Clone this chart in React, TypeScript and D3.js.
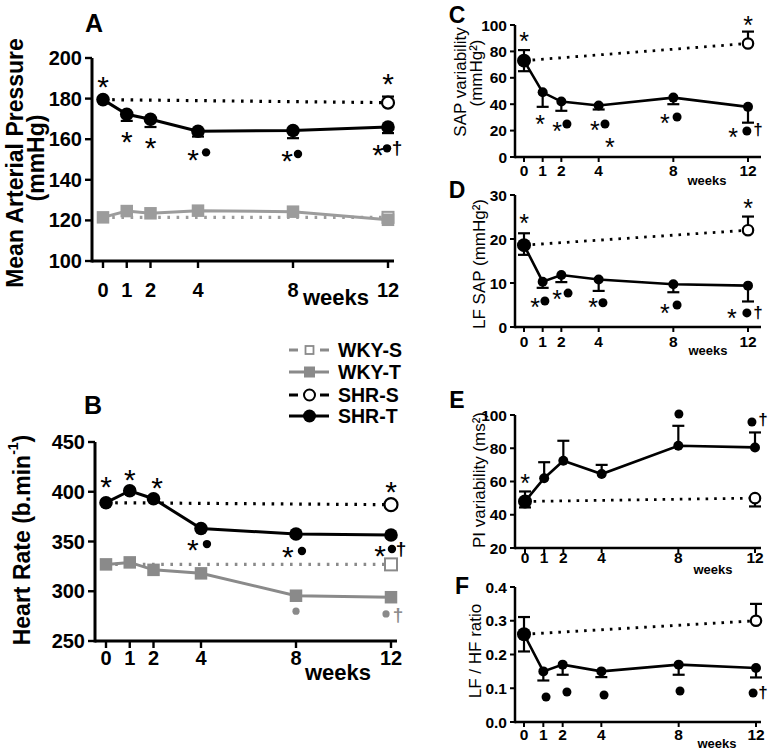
import React from 'react';
import * as d3 from 'd3';

const FF = '"Liberation Sans", Arial, Helvetica, sans-serif';
const GRAY_A = '#9c9c9c';
const GRAY_B = '#8a8a8a';

// ---------- shared ----------
const weeks = [0, 1, 2, 4, 8, 12];
const shamWeeks = [0, 12];
const weekTicks = [0, 1, 2, 4, 8, 12];

// ---------- Panel A: Mean arterial pressure ----------
const mapTicks = [100, 120, 140, 160, 180, 200];
const mapShrT = [179.5, 172.3, 169.8, 163.9, 164.3, 166];
const mapShrTLo = [null, 169, 166, 161.3, 160.5, 163];
const mapShrS = [179.5, 178];
const mapShrSHi = [null, 181];
const mapWkyT = [121.5, 124.6, 123.5, 124.8, 124.3, 120.3];
const mapWkyS = [121.5, 121.5];
const mapMarks = [
  { w: 0, v: 189, s: '*' },
  { w: 1, v: 162, s: '*' },
  { w: 2, v: 159, s: '*' },
  { w: 3.79, v: 153.2, s: '*' }, { w: 4.34, v: 153.5, s: '●' },
  { w: 7.75, v: 152.7, s: '*' }, { w: 8.21, v: 152.7, s: '●' },
  { w: 11.58, v: 155.5, s: '*' }, { w: 11.96, v: 155.5, s: '●' }, { w: 12.38, v: 156, s: '†' },
  { w: 12, v: 190.6, s: '*' },
];

// ---------- Panel B: Heart rate ----------
const hrTicks = [250, 300, 350, 400, 450];
const hrShrT = [389, 401, 393, 363, 357.5, 356.5];
const hrShrS = [389, 387];
const hrWkyT = [327, 329, 321.5, 318, 295.5, 294];
const hrWkyS = [327, 327];
const hrMarks = [
  { w: 0, v: 411.7, s: '*' }, { w: 1, v: 418.5, s: '*' }, { w: 2.15, v: 410.7, s: '*' },
  { w: 3.66, v: 348.3, s: '*' }, { w: 4.25, v: 347.4, s: '●' },
  { w: 7.66, v: 341.5, s: '*' }, { w: 8.25, v: 340.5, s: '●' },
  { w: 11.54, v: 342.5, s: '*' }, { w: 12.04, v: 342.5, s: '●' }, { w: 12.42, v: 342.5, s: '†' },
  { w: 12, v: 406.8, s: '*' },
  { w: 8, v: 280, s: '●', c: 'gray' }, { w: 11.79, v: 277.2, s: '●', c: 'gray' }, { w: 12.3, v: 277, s: '†', c: 'gray' },
];

// ---------- Panel C: SAP variability ----------
const sapTicks = [0, 20, 40, 60, 80, 100];
const sapShrT = [73, 49, 42, 39, 45, 38];
const sapShrTLo = [65, 38, 35, 36, 40, 26];
const sapShrTHi = [81, null, null, null, null, null];
const sapShrS = [73, 86];
const sapShrSHi = [null, 95];
const sapMarks = [
  { w: 0, v: 92.4, s: '*' },
  { w: 0.86, v: 29.5, s: '*' },
  { w: 1.77, v: 24.2, s: '*' }, { w: 2.3, v: 25, s: '●' },
  { w: 3.8, v: 25, s: '*' }, { w: 4.34, v: 25, s: '●' },
  { w: 4.6, v: 11.4, s: '*' },
  { w: 7.55, v: 30.3, s: '*' }, { w: 8.2, v: 30.3, s: '●' },
  { w: 11.2, v: 19, s: '*' }, { w: 11.94, v: 19.7, s: '●' }, { w: 12.53, v: 20.5, s: '†' },
  { w: 12, v: 103.8, s: '*' },
];

// ---------- Panel D: LF SAP ----------
const lfTicks = [0, 10, 20, 30];
const lfShrT = [18.6, 10.3, 11.8, 10.8, 9.7, 9.4];
const lfShrTLo = [16.4, 8.9, 10.2, 8.2, 7.9, 5.8];
const lfShrTHi = [21.3, null, null, null, null, null];
const lfShrS = [18.6, 22];
const lfShrSHi = [null, 25.1];
const lfMarks = [
  { w: 0, v: 24.8, s: '*' },
  { w: 0.59, v: 5.7, s: '*' }, { w: 1.12, v: 5.9, s: '●' },
  { w: 1.77, v: 7.7, s: '*' }, { w: 2.36, v: 7.7, s: '●' },
  { w: 3.7, v: 5.7, s: '*' }, { w: 4.23, v: 5.5, s: '●' },
  { w: 7.55, v: 4.5, s: '*' }, { w: 8.2, v: 5, s: '●' },
  { w: 11.14, v: 3.4, s: '*' }, { w: 11.94, v: 3.2, s: '●' }, { w: 12.53, v: 3.4, s: '†' },
  { w: 12, v: 28.2, s: '*' },
];

// ---------- Panel E: PI variability ----------
const piTicks = [20, 40, 60, 80, 100];
const piShrT = [48, 62, 72.5, 64.5, 81.5, 80.5];
const piShrTLo = [44.4, null, null, null, null, null];
const piShrTHi = [54, 71.6, 84.5, 70, 93.5, 89.5];
const piShrS = [48, 50];
const piShrSLo = [null, 45];
const piMarks = [
  { w: 0, v: 62.2, s: '*' },
  { w: 8.03, v: 100.6, s: '●' },
  { w: 11.84, v: 95.8, s: '●' }, { w: 12.42, v: 97, s: '†' },
];

// ---------- Panel F: LF/HF ratio ----------
const ratioTicks = [0, 0.1, 0.2, 0.3, 0.4];
const ratioShrT = [0.26, 0.15, 0.17, 0.15, 0.17, 0.16];
const ratioShrTLo = [0.209, 0.123, 0.14, 0.133, 0.14, 0.132];
const ratioShrTHi = [0.311, null, null, null, null, null];
const ratioShrS = [0.26, 0.30];
const ratioShrSHi = [null, 0.35];
const ratioMarks = [
  { w: 1.14, v: 0.074, s: '●' },
  { w: 2.22, v: 0.089, s: '●' },
  { w: 4.14, v: 0.08, s: '●' },
  { w: 8.07, v: 0.092, s: '●' },
  { w: 11.85, v: 0.086, s: '●' }, { w: 12.36, v: 0.086, s: '†' },
];

// ---------- legend ----------
const legendLabels = ['WKY-S', 'WKY-T', 'SHR-S', 'SHR-T'];

type Series = {
  xs: number[];
  ys: number[];
  dotted?: boolean;
  color: string;
  marker: 'circle' | 'square';
  open?: boolean;
  markAt?: number[];
  lo?: (number | null)[];
  hi?: (number | null)[];
  size: number;
  firstSize?: number;
};

type Mark = { w: number; v: number; s: string; c?: string };

type PanelProps = {
  big: boolean;
  letter: string;
  letterPos: [number, number];
  xr: [number, number];
  yd: [number, number];
  yr: [number, number];
  ax: number;
  xEnd: number;
  yTicks: number[];
  fmt?: (d: number) => string;
  xLabY: number;
  weeksPos: [number, number];
  titles: { text: React.ReactNode; x: number; y: number }[];
  series: Series[];
  marks: Mark[];
  grayColor: string;
};

function Panel(p: PanelProps) {
  const x = d3.scaleLinear().domain([0, 12]).range(p.xr);
  const y = d3.scaleLinear().domain(p.yd).range(p.yr);
  const big = p.big;
  const axisW = big ? 3 : 2.5;
  const tickLen = big ? 7 : 5;
  const tickFs = big ? 20 : 15.5;
  const lineW = big ? 3 : 2.6;
  const capW = big ? 6 : 6;
  const y0 = y(p.yd[0]);
  const yTop = y(p.yd[1]);
  const fmt = p.fmt || ((d: number) => String(d));
  const line = d3
    .line<[number, number]>()
    .x((d) => x(d[0]))
    .y((d) => y(d[1]));

  const drawMark = (m: Mark, i: number) => {
    const cx = x(m.w);
    const cy = y(m.v);
    const col = m.c === 'gray' ? p.grayColor : '#000';
    if (m.s === '●') {
      const r = m.c === 'gray' ? 3.6 : big ? 4.2 : 4.5;
      return <circle key={'m' + i} cx={cx} cy={cy} r={r} fill={col} />;
    }
    if (m.s === '*') {
      const fs = big ? 30 : 25;
      return (
        <text key={'m' + i} x={cx} y={cy + 0.22 * fs} fontSize={fs} fill={col} textAnchor="middle"
          dominantBaseline="central" fontFamily={FF}>*</text>
      );
    }
    const fs = big ? 19 : 17;
    return (
      <text key={'m' + i} x={cx} y={cy} fontSize={fs} fill={col} textAnchor="middle"
        dominantBaseline="central" fontFamily={FF} fontWeight="bold">†</text>
    );
  };

  return (
    <g>
      {/* panel letter */}
      <text x={p.letterPos[0]} y={p.letterPos[1]} fontSize={big ? 25 : 23} fontWeight="bold" fontFamily={FF}
        textAnchor="middle" dominantBaseline="central">{p.letter}</text>
      {/* y titles */}
      {p.titles.map((t, i) => (
        <text key={'t' + i} transform={`translate(${t.x},${t.y}) rotate(-90)`} fontSize={big ? 23 : 17}
          fontWeight={big ? 'bold' : 'normal'} fontFamily={FF} textAnchor="middle" dominantBaseline="central">
          {t.text}
        </text>
      ))}
      {/* axes */}
      <line x1={p.ax} x2={p.ax} y1={yTop} y2={y0 + axisW / 2} stroke="#000" strokeWidth={axisW} />
      <line x1={p.ax} x2={p.xEnd} y1={y0} y2={y0} stroke="#000" strokeWidth={axisW} />
      {p.yTicks.map((t) => (
        <g key={'yt' + t}>
          <line x1={p.ax - tickLen} x2={p.ax} y1={y(t)} y2={y(t)} stroke="#000" strokeWidth={axisW * 0.8} />
          <text x={p.ax - tickLen - 3} y={y(t)} fontSize={tickFs} fontWeight="bold" fontFamily={FF}
            textAnchor="end" dominantBaseline="central">{fmt(t)}</text>
        </g>
      ))}
      {weekTicks.map((w) => (
        <g key={'xt' + w}>
          <line x1={x(w)} x2={x(w)} y1={y0} y2={y0 + tickLen} stroke="#000" strokeWidth={axisW * 0.8} />
          <text x={x(w)} y={p.xLabY} fontSize={tickFs} fontWeight="bold" fontFamily={FF}
            textAnchor="middle" dominantBaseline="central">{w}</text>
        </g>
      ))}
      <text x={p.weeksPos[0]} y={p.weeksPos[1]} fontSize={big ? 22 : 13} fontWeight="bold" fontFamily={FF}
        textAnchor="middle">weeks</text>
      {/* lines */}
      {p.series.map((s, si) => (
        <path key={'l' + si} d={line(s.xs.map((w, i) => [w, s.ys[i]] as [number, number])) || ''}
          fill="none" stroke={s.color} strokeWidth={s.dotted ? (big ? 3.2 : 2.8) : lineW}
          strokeDasharray={s.dotted ? (big ? '2.6 6.6' : '2.6 6') : undefined} />
      ))}
      {/* error bars */}
      {p.series.map((s, si) =>
        s.xs.map((w, i) => {
          const ends = [s.lo ? s.lo[i] : null, s.hi ? s.hi[i] : null];
          return ends.map((e, k) =>
            e == null ? null : (
              <g key={`e${si}-${i}-${k}`}>
                <line x1={x(w)} x2={x(w)} y1={y(s.ys[i])} y2={y(e)} stroke={s.color} strokeWidth={2.2} />
                <line x1={x(w) - capW} x2={x(w) + capW} y1={y(e)} y2={y(e)} stroke={s.color} strokeWidth={2.2} />
              </g>
            )
          );
        })
      )}
      {/* markers */}
      {p.series.map((s, si) =>
        s.xs.map((w, i) => {
          if (s.markAt && !s.markAt.includes(w)) return null;
          const cx = x(w);
          const cy = y(s.ys[i]);
          const sz = i === 0 && s.firstSize ? s.firstSize : s.size;
          if (s.marker === 'circle') {
            return (
              <circle key={`p${si}-${i}`} cx={cx} cy={cy} r={sz} fill={s.open ? '#fff' : s.color}
                stroke={s.color} strokeWidth={s.open ? 2.2 : 0} />
            );
          }
          return (
            <rect key={`p${si}-${i}`} x={cx - sz / 2} y={cy - sz / 2} width={sz} height={sz}
              fill={s.open ? '#fff' : s.color} stroke={s.color} strokeWidth={s.open ? 2 : 0} />
          );
        })
      )}
      {p.marks.map(drawMark)}
    </g>
  );
}

function Legend() {
  const rowsY = [350, 372, 395, 416];
  const kinds = [
    { color: GRAY_B, dashed: true, marker: 'square', open: true, size: 8 },
    { color: GRAY_B, dashed: false, marker: 'square', open: false, size: 11 },
    { color: '#000', dashed: true, marker: 'circle', open: true, size: 5.5 },
    { color: '#000', dashed: false, marker: 'circle', open: false, size: 6.5 },
  ];
  return (
    <g>
      {legendLabels.map((lab, i) => {
        const k = kinds[i];
        const yy = rowsY[i];
        const cx = 309.5;
        return (
          <g key={lab}>
            {k.dashed ? (
              <g>
                <line x1={289} x2={298} y1={yy} y2={yy} stroke={k.color} strokeWidth={3} />
                <line x1={320} x2={329} y1={yy} y2={yy} stroke={k.color} strokeWidth={3} />
              </g>
            ) : (
              <line x1={289} x2={329} y1={yy} y2={yy} stroke={k.color} strokeWidth={3} />
            )}
            {k.marker === 'circle' ? (
              <circle cx={cx} cy={yy} r={k.size} fill={k.open ? '#fff' : k.color} stroke={k.color}
                strokeWidth={k.open ? 2 : 0} />
            ) : (
              <rect x={cx - k.size / 2} y={yy - k.size / 2} width={k.size} height={k.size}
                fill={k.open ? '#fff' : k.color} stroke={k.color} strokeWidth={k.open ? 1.8 : 0} />
            )}
            <text x={338} y={yy} fontSize={19.5} fontWeight="bold" fontFamily={FF} dominantBaseline="central">
              {lab}
            </text>
          </g>
        );
      })}
    </g>
  );
}

export default function App() {
  const A: PanelProps = {
    big: true, letter: 'A', letterPos: [94, 23], xr: [103, 388], yd: [100, 200], yr: [261, 58],
    ax: 92, xEnd: 394, yTicks: mapTicks, xLabY: 290, weeksPos: [336, 305],
    titles: [
      { text: 'Mean Arterial Pressure', x: 15, y: 163 },
      { text: '(mmHg)', x: 36, y: 158 },
    ],
    grayColor: GRAY_A,
    series: [
      { xs: shamWeeks, ys: mapWkyS, dotted: true, color: GRAY_A, marker: 'square', open: true, markAt: [12], size: 11 },
      { xs: shamWeeks, ys: mapShrS, dotted: true, color: '#000', marker: 'circle', open: true, markAt: [12], size: 6, hi: mapShrSHi },
      { xs: weeks, ys: mapWkyT, color: GRAY_A, marker: 'square', size: 12.5 },
      { xs: weeks, ys: mapShrT, color: '#000', marker: 'circle', size: 6.8, lo: mapShrTLo },
    ],
    marks: mapMarks,
  };
  const B: PanelProps = {
    big: true, letter: 'B', letterPos: [93, 405], xr: [106, 391], yd: [250, 450], yr: [641, 442],
    ax: 95, xEnd: 397, yTicks: hrTicks, xLabY: 658, weeksPos: [338, 680],
    titles: [
      {
        text: (
          <>
            Heart Rate (b.min<tspan fontSize={14} dy={-9}>-1</tspan>
            <tspan dy={9}>)</tspan>
          </>
        ),
        x: 22, y: 540,
      },
    ],
    grayColor: GRAY_B,
    series: [
      { xs: shamWeeks, ys: hrWkyS, dotted: true, color: GRAY_B, marker: 'square', open: true, markAt: [12], size: 12 },
      { xs: shamWeeks, ys: hrShrS, dotted: true, color: '#000', marker: 'circle', open: true, markAt: [12], size: 6.5 },
      { xs: weeks, ys: hrWkyT, color: GRAY_B, marker: 'square', size: 12.5 },
      { xs: weeks, ys: hrShrT, color: '#000', marker: 'circle', size: 6.8 },
    ],
    marks: hrMarks,
  };
  const right = (letter: string, letterPos: [number, number], xr: [number, number], yd: [number, number],
    yr: [number, number], yTicks: number[], xLabY: number, weeksPos: [number, number],
    titles: PanelProps['titles'], shrT: number[], lo: (number | null)[], hi: (number | null)[],
    shrS: number[], sLo: (number | null)[] | undefined, sHi: (number | null)[] | undefined, marks: Mark[],
    fmt?: (d: number) => string): PanelProps => ({
    big: false, letter, letterPos, xr, yd, yr, ax: 515, xEnd: 761, yTicks, xLabY, weeksPos, titles, fmt,
    grayColor: GRAY_B,
    series: [
      { xs: shamWeeks, ys: shrS, dotted: true, color: '#000', marker: 'circle', open: true, markAt: [12], size: 5.2, lo: sLo, hi: sHi },
      { xs: weeks, ys: shrT, color: '#000', marker: 'circle', size: 5, firstSize: 7, lo, hi },
    ],
    marks,
  });
  const C = right('C', [457, 15], [524, 748], [0, 100], [157, 25], sapTicks, 170, [707, 185],
    [{ text: 'SAP variability', x: 460, y: 82 }, { text: '(mmHg²)', x: 476, y: 73 }],
    sapShrT, sapShrTLo, sapShrTHi, sapShrS, undefined, sapShrSHi, sapMarks);
  const D = right('D', [457, 190], [524, 748], [0, 30], [327, 195], lfTicks, 341, [708, 355],
    [{ text: 'LF SAP (mmHg²)', x: 479, y: 264 }],
    lfShrT, lfShrTLo, lfShrTHi, lfShrS, undefined, lfShrSHi, lfMarks);
  const E = right('E', [457, 400], [525, 755], [20, 100], [548, 415], piTicks, 557, [713, 574],
    [{ text: 'PI variability (ms²)', x: 479, y: 480 }],
    piShrT, piShrTLo, piShrTHi, piShrS, piShrSLo, undefined, piMarks);
  const F = right('F', [462, 586], [524, 756], [0, 0.4], [722, 587], ratioTicks, 734, [717, 748],
    [{ text: 'LF / HF ratio', x: 475, y: 651 }],
    ratioShrT, ratioShrTLo, ratioShrTHi, ratioShrS, undefined, ratioShrSHi, ratioMarks,
    (d: number) => d3.format('.1f')(d));

  return (
    <svg width={773} height={752} style={{ position: 'absolute', left: 0, top: 0, background: '#fff' }}
      fontFamily={FF}>
      <rect x={0} y={0} width={773} height={752} fill="#fff" />
      <Panel {...A} />
      <Panel {...B} />
      <Legend />
      <Panel {...C} />
      <Panel {...D} />
      <Panel {...E} />
      <Panel {...F} />
    </svg>
  );
}
